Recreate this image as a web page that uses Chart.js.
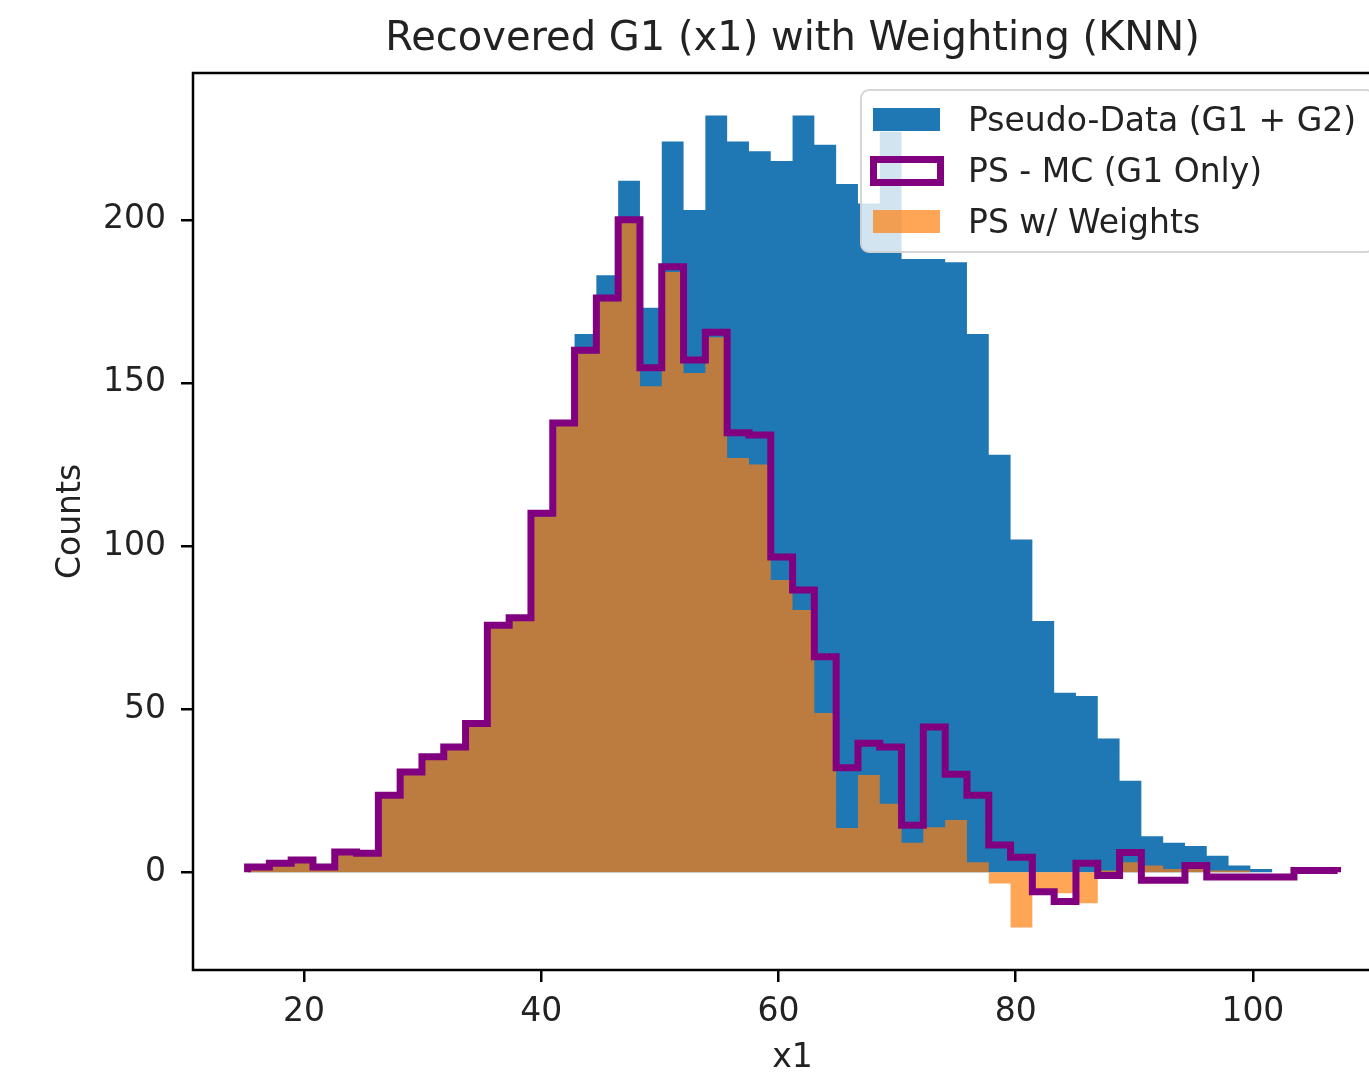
<!DOCTYPE html>
<html lang="en">
<head>
  <meta charset="UTF-8" />
  <meta name="viewport" content="width=device-width, initial-scale=1.0" />
  <title>Recovered G1 (x1) with Weighting (KNN)</title>
  <script src="https://cdn.jsdelivr.net/npm/chart.js"></script>

  <style>
    html, body {
      margin: 0;
      padding: 0;
      background: #fff;
      overflow: hidden;
      font-family: 'DejaVu Sans', sans-serif;
    }

    /* wider than the window on purpose: the right spine sits just off-screen */
    #wrap {
      position: relative;
      width: 1585px;
      height: 1081px;
    }

    #legend {
      position: absolute;
      left: 860px;
      top: 89px;
      width: 515px;
      height: 164px;
      box-sizing: border-box;
      padding-top: 3px;
      background: rgba(255, 255, 255, 0.8);
      border: 2px solid rgba(204, 204, 204, 0.8);
      border-radius: 9px;
      color: #222;
      font-size: 33px;
    }

    .row {
      display: flex;
      align-items: center;
      height: 51px;
      white-space: nowrap;
    }

    .patch {
      box-sizing: border-box;
      flex: none;
    }
  </style>
</head>

<body>
  <div id="wrap">
    <canvas id="histChart"></canvas>
    <div id="legend"></div>
  </div>

  <script>
    // histogram bins (x1)
    const binLo = 15.24;
    const binHi = 107.14;
    const nBins = 50;

    // Pseudo-Data (G1 + G2)
    const pseudoData = [2, 3, 4, 2, 6, 6, 24, 31, 36, 39,
      46, 76, 78, 110, 138, 165, 183, 212, 173, 224,
      203, 232, 224, 221, 218, 232, 223, 211, 205, 227,
      188, 188, 187, 165, 128, 102, 77, 55, 54, 41,
      28, 11, 9, 8, 5, 2, 1, 0, 1, 1];

    // PS - MC (G1 Only)
    const psMinusMc = [1.6, 2.7, 3.7, 1.6, 6.2, 5.8, 23.6, 30.7, 35.4, 38.4,
      45.6, 75.7, 78, 110, 137.7, 160, 176, 200, 154.6, 185.6,
      157, 165.5, 134.7, 134, 96.6, 86.5, 66, 32, 39.5, 38.4,
      14.4, 44.5, 30, 23.6, 8.3, 4.6, -6, -9, 2.7, -1,
      6, -2.5, -2.5, 2, -1.5, -1.5, -1.5, -1.5, 0.5, 0.5];

    // PS w/ Weights
    const psWeighted = [1.5, 2.5, 3.5, 1.5, 6, 5.5, 23, 30, 35, 38,
      45, 75, 77, 109, 137, 159, 175, 199, 149, 184,
      153, 164, 127, 125, 89.6, 80.4, 48.8, 13.5, 29.8, 21,
      9, 13.8, 16, 3, -3.5, -17, -7, -6.5, -9.5, 0.5,
      3, 2, 1, 1, 0.5, 0.5, 0, 0, 0, 0];

    const xTicks = [20, 40, 60, 80, 100];
    const yTicks = [0, 50, 100, 150, 200];

    const binW = (binHi - binLo) / nBins;
    const edges = [];
    for (let i = 0; i <= nBins; i++) edges.push(binLo + i * binW);

    // turn bin counts into an outline like matplotlib's hist (step)
    function stepPoints(counts) {
      const pts = [{ x: edges[0], y: 0 }];
      counts.forEach((c, i) => pts.push({ x: edges[i], y: c }));
      pts.push({ x: edges[nBins], y: counts[nBins - 1] });
      pts.push({ x: edges[nBins], y: 0 });
      return pts;
    }

    const frame = {
      id: 'frame',
      afterDatasetsDraw(chart) {
        const { ctx, chartArea: a } = chart;
        ctx.save();
        ctx.strokeStyle = '#000';
        ctx.lineWidth = 2.5;
        ctx.strokeRect(a.left, a.top, a.right - a.left, a.bottom - a.top);
        ctx.restore();
      }
    };

    const font = { family: "'DejaVu Sans', sans-serif", size: 33 };

    const chart = new Chart(document.getElementById('histChart'), {
      type: 'line',
      data: {
        datasets: [
          {
            label: 'Pseudo-Data (G1 + G2)',
            data: stepPoints(pseudoData),
            stepped: 'before',
            fill: 'origin',
            backgroundColor: '#1f77b4',
            borderWidth: 0,
            pointRadius: 0,
            order: 3
          },
          {
            label: 'PS - MC (G1 Only)',
            data: stepPoints(psMinusMc),
            stepped: 'before',
            fill: false,
            borderColor: '#800080',
            borderWidth: 7,
            borderJoinStyle: 'miter',
            borderCapStyle: 'butt',
            pointRadius: 0,
            order: 1
          },
          {
            label: 'PS w/ Weights',
            data: stepPoints(psWeighted),
            stepped: 'before',
            fill: 'origin',
            backgroundColor: 'rgba(255,127,14,0.7)',
            borderWidth: 0,
            pointRadius: 0,
            order: 2
          }
        ]
      },
      options: {
        responsive: true,
        maintainAspectRatio: false,
        animation: false,
        events: [],
        layout: { padding: 0 },
        plugins: {
          legend: { display: false },
          tooltip: { enabled: false },
          title: {
            display: true,
            text: 'Recovered G1 (x1) with Weighting (KNN)',
            color: '#222',
            font: { family: font.family, size: 40, weight: 'normal' },
            padding: { top: 16, bottom: 9 }
          }
        },
        scales: {
          x: {
            type: 'linear',
            min: 10.64,
            max: 111.73,
            afterBuildTicks: (axis) => { axis.ticks = xTicks.map(v => ({ value: v })); },
            afterFit: (axis) => { axis.height = 111; },
            border: { display: false },
            grid: { drawOnChartArea: false, drawTicks: true, tickLength: 12, lineWidth: 2.5, color: '#000' },
            ticks: { color: '#222', font: font, padding: 11, maxRotation: 0, autoSkip: false },
            title: { display: true, text: 'x1', color: '#222', font: font, padding: { top: 0, bottom: 3 } }
          },
          y: {
            type: 'linear',
            min: -30,
            max: 245,
            afterBuildTicks: (axis) => { axis.ticks = yTicks.map(v => ({ value: v })); },
            afterFit: (axis) => { axis.width = 193; },
            border: { display: false },
            grid: { drawOnChartArea: false, drawTicks: true, tickLength: 12, lineWidth: 2.5, color: '#000' },
            ticks: { color: '#222', font: font, padding: 15 },
            title: { display: true, text: 'Counts', color: '#222', font: font, padding: { top: 52, bottom: 0 } }
          },
          // empty right-hand box so the axes (and the title above them) sit where they do in the figure
          yRight: {
            type: 'linear',
            position: 'right',
            afterFit: (axis) => { axis.width = 193; },
            border: { display: false },
            grid: { display: false },
            ticks: { display: false }
          }
        }
      },
      plugins: [frame]
    });

    // matplotlib-style legend in the upper right corner
    const legend = document.getElementById('legend');
    chart.data.datasets.forEach((ds) => {
      const row = document.createElement('div');
      row.className = 'row';
      const patch = document.createElement('span');
      patch.className = 'patch';
      if (ds.fill) {
        patch.style.cssText = `width:67px;height:23px;margin-left:11px;background:${ds.backgroundColor}`;
      } else {
        patch.style.cssText = `width:74px;height:30px;margin-left:7.5px;border:${ds.borderWidth}px solid ${ds.borderColor}`;
      }
      const text = document.createElement('span');
      text.textContent = ds.label;
      text.style.marginLeft = ds.fill ? '28px' : '24.5px';
      row.appendChild(patch);
      row.appendChild(text);
      legend.appendChild(row);
    });
  </script>
</body>
</html>
